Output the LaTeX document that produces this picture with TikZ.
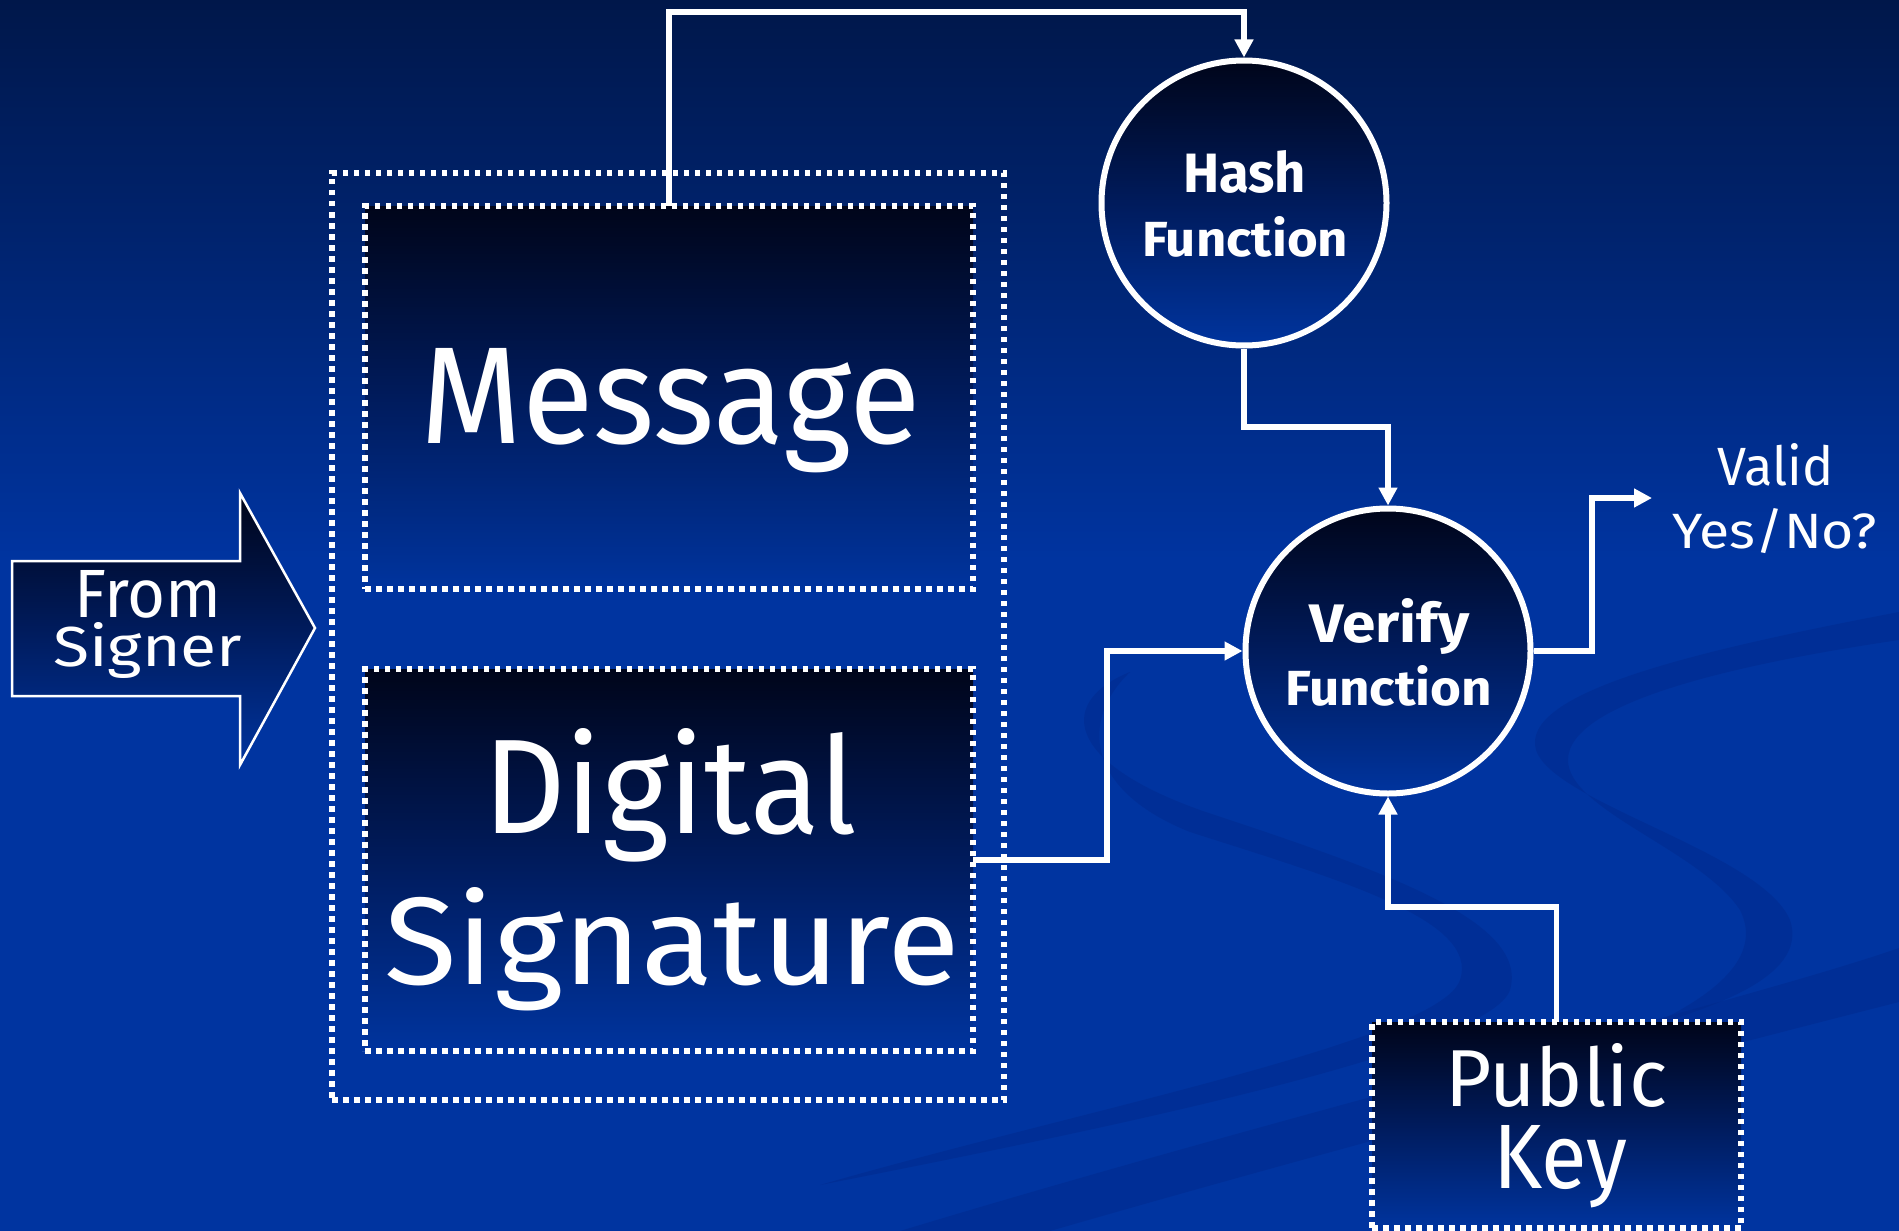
\documentclass[tikz,border=0pt]{standalone}
\usepackage{fontspec}
\setmainfont{Fira Sans}
\usetikzlibrary{arrows.meta,calc}
\newcommand{\fitl}[3]{\resizebox{#1pt}{#2pt}{#3}}
\definecolor{bgtop}{HTML}{00174A}
\definecolor{bgbot}{HTML}{0034A0}
\definecolor{shtop}{HTML}{00051A}
\definecolor{shmid}{HTML}{001B5C}
\definecolor{shbot}{HTML}{00349E}
\definecolor{swoosh}{HTML}{00288A}
\begin{document}
\begin{tikzpicture}[x=1pt,y=-1pt,
  dotframe/.style={draw=white, line width=5.5pt, dash pattern=on 5.5pt off 5.5pt},
  darkfill/.style={top color=shtop, bottom color=shbot, middle color=shmid},
  box/.style={dotframe, darkfill, rectangle, inner sep=0pt, outer sep=0pt},
  func/.style={circle, draw=white, line width=6pt, darkfill, inner sep=0pt, minimum size=285pt},
  conn/.style={draw=white, line width=5.5pt},
  tip/.style={-{Triangle[width=18pt,length=18pt]}},
  lbl/.style={text=white, inner sep=0pt, anchor=base west},
  swooshband/.style={fill=swoosh, opacity=0.45},
]
\useasboundingbox (0,0) rectangle (1899,1231);
% background
\fill[bgbot] (0,0) rectangle (1899,1231);
\shade[top color=bgtop, bottom color=bgbot] (0,0) rectangle (1899,560);
% swooshes
\fill[swooshband] (1130,672) .. controls (1060,700) and (1060,760) .. (1200,810)
  .. controls (1380,870) and (1530,920) .. (1510,990)
  .. controls (1490,1050) and (1100,1130) .. (820,1185)
  .. controls (1080,1110) and (1440,1040) .. (1460,980)
  .. controls (1480,920) and (1340,880) .. (1190,832)
  .. controls (1085,790) and (1080,720) .. (1130,672) -- cycle;
\fill[swooshband] (1899,612) .. controls (1700,650) and (1530,690) .. (1535,745)
  .. controls (1540,800) and (1760,850) .. (1790,920)
  .. controls (1810,980) and (1700,1010) .. (1640,1030)
  .. controls (1730,990) and (1760,950) .. (1740,910)
  .. controls (1700,850) and (1568,810) .. (1568,760)
  .. controls (1568,700) and (1750,662) .. (1899,640) -- cycle;
\fill[swooshband] (1899,948) .. controls (1750,1000) and (1300,1110) .. (900,1231)
  -- (1050,1231) .. controls (1400,1130) and (1750,1040) .. (1899,1002) -- cycle;
% outer dotted frame
\node[dotframe, rectangle, inner sep=0pt, outer sep=0pt, minimum width=672pt, minimum height=927pt] (outer) at (668,636.5) {};
% boxes
\node[box, minimum width=608pt, minimum height=383pt] (msg) at (669,397.5) {};
\node[box, minimum width=608pt, minimum height=382pt] (ds) at (669,860) {};
\node[box, minimum width=369pt, minimum height=206pt] (pk) at (1556.5,1125) {};
% from signer arrow
\shade[draw=white, line width=2.5pt, top color=shtop, bottom color=shbot, middle color=shmid]
  (12,561) -- (240,561) -- (240,493) -- (315,628) -- (240,765) -- (240,696) -- (12,696) -- cycle;
% functions
\node[func] (hash) at (1244,203) {};
\node[func] (verify) at (1388,651) {};
% connectors
\coordinate (topy) at (0,12);
\coordinate (hy) at (0,427);
\coordinate (dsx) at (1107,0);
\coordinate (pky) at (0,907);
\coordinate (vx) at (1592,0);
\coordinate (validtip) at (1652,498);
\draw[conn,tip] (msg.north) -- (msg.north |- topy) -| (hash.north);
\draw[conn,tip] (hash.south) -- (hash.south |- hy) -| (verify.north);
\draw[conn,tip] (ds.east) -- (dsx |- ds.east) |- (verify.west);
\draw[conn,tip] (pk.north) -- (pk.north |- pky) -| (verify.south);
\draw[conn,tip] (verify.east) -- (vx |- verify.east) |- (validtip);
% labels
\node[lbl] (tmsg) at (420,443) {\fitl{500}{95}{Message}};
\node[lbl] (tdig) at (483,833) {\fitl{373}{105}{Digital}};
\node[lbl] (tsig) at (384,984) {\fitl{575}{97}{Signature}};
\node[lbl] (tfrom) at (74,617) {\fitl{147}{47}{From}};
\node[lbl] (tsigner) at (53,666) {\fitl{189}{44}{Signer}};
\node[lbl] (thash) at (1183,192) {\fitl{123}{42}{\bfseries Hash}};
\node[lbl] (thf) at (1142,256) {\fitl{206}{40}{\bfseries Function}};
\node[lbl] (tver) at (1309,642) {\fitl{160}{44}{\bfseries Verify}};
\node[lbl] (tvf) at (1285,705) {\fitl{207}{40}{\bfseries Function}};
\node[lbl] (tvalid) at (1717,485) {\fitl{116}{42}{Valid}};
\node[lbl] (tyn) at (1672,548) {\fitl{205}{40}{Yes/No?}};
\node[lbl] (tpub) at (1445,1106) {\fitl{222}{63}{Public}};
\node[lbl] (tkey) at (1493,1188) {\fitl{134}{63}{Key}};
\end{tikzpicture}
\end{document}
